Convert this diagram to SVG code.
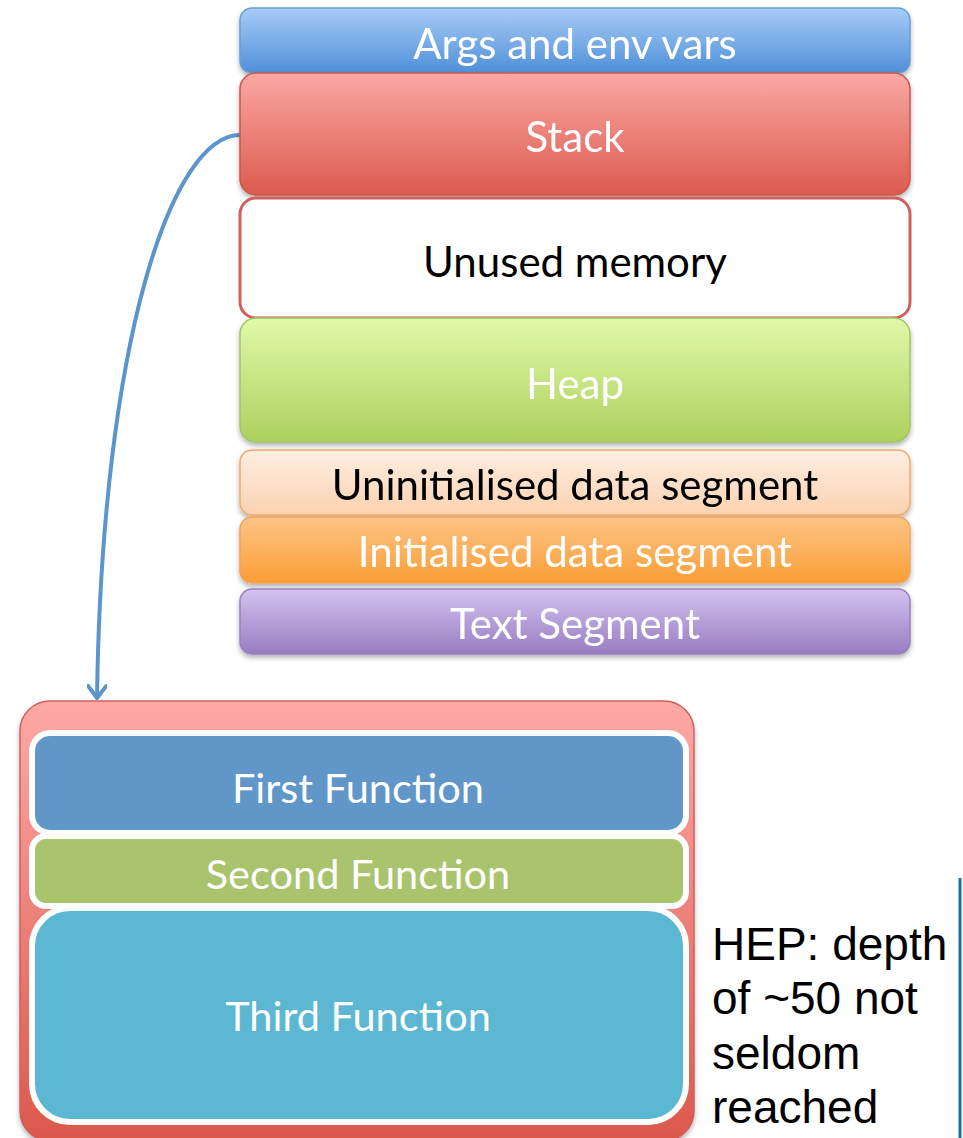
<svg xmlns="http://www.w3.org/2000/svg" width="963" height="1138" viewBox="0 0 963 1138">
<style>
.lbl{font-family:Lato,"Open Sans",sans-serif;font-size:42px;text-anchor:middle}
.sm{font-size:41.5px}
.w{fill:#ffffff}
.k{fill:#000000}
.note{font-family:"Liberation Sans",Arial,sans-serif;font-size:46px;fill:#000}
</style>
<defs>
<filter id="sh" x="-5%" y="-10%" width="110%" height="130%"><feDropShadow dx="0" dy="3" stdDeviation="2.5" flood-color="#000" flood-opacity="0.3"/></filter>
<linearGradient id="gArgs" x1="0" y1="0" x2="0" y2="1"><stop offset="0" stop-color="#a9ccf7"/><stop offset="1" stop-color="#4f8fd8"/></linearGradient>
<linearGradient id="gStack" x1="0" y1="0" x2="0" y2="1"><stop offset="0" stop-color="#fba8a4"/><stop offset="1" stop-color="#dc5a4e"/></linearGradient>
<linearGradient id="gHeap" x1="0" y1="0" x2="0" y2="1"><stop offset="0" stop-color="#e0f9a9"/><stop offset="1" stop-color="#aed05e"/></linearGradient>
<linearGradient id="gUninit" x1="0" y1="0" x2="0" y2="1"><stop offset="0" stop-color="#feeee2"/><stop offset="1" stop-color="#fbd2b0"/></linearGradient>
<linearGradient id="gInit" x1="0" y1="0" x2="0" y2="1"><stop offset="0" stop-color="#fdc486"/><stop offset="1" stop-color="#fb9e36"/></linearGradient>
<linearGradient id="gText" x1="0" y1="0" x2="0" y2="1"><stop offset="0" stop-color="#d4c2f0"/><stop offset="1" stop-color="#987cc0"/></linearGradient>
<linearGradient id="gOuter" x1="0" y1="0" x2="0" y2="1"><stop offset="0" stop-color="#fda9a5"/><stop offset="1" stop-color="#db584c"/></linearGradient>
<marker id="arr" viewBox="0 0 20 20" refX="18" refY="10" markerWidth="20" markerHeight="20" markerUnits="userSpaceOnUse" orient="auto">
<path d="M6 1 L18 10 L6 19" fill="none" stroke="#5b95cb" stroke-width="4" stroke-linecap="round" stroke-linejoin="round"/>
</marker>
</defs>
<rect width="963" height="1138" fill="#ffffff"/>

<g id="connectors">
<path d="M240 135 C172 135 102 340 97 698" fill="none" stroke="#5b95cb" stroke-width="4" marker-end="url(#arr)"/>
</g>

<g id="args" filter="url(#sh)">
<rect x="240" y="8" width="670" height="65" rx="12" fill="url(#gArgs)" stroke="#6a9fd4" stroke-width="1.5"/>
<text class="lbl w" x="575" y="59">Args and env vars</text>
</g>
<g id="stack" filter="url(#sh)">
<rect x="240" y="73" width="670" height="122" rx="16" fill="url(#gStack)" stroke="#c9554c" stroke-width="1.5"/>
<text class="lbl w" x="575" y="152">Stack</text>
</g>
<g id="unused">
<rect x="240" y="198" width="670" height="120" rx="16" fill="#ffffff" stroke="#d0605a" stroke-width="3"/>
<text class="lbl k" x="575" y="277">Unused memory</text>
</g>
<g id="heap" filter="url(#sh)">
<rect x="240" y="318" width="670" height="124" rx="16" fill="url(#gHeap)" stroke="#a2c466" stroke-width="1.5"/>
<text class="lbl w" x="575" y="399">Heap</text>
</g>
<g id="uninit" filter="url(#sh)">
<rect x="240" y="450" width="670" height="65" rx="12" fill="url(#gUninit)" stroke="#f2aa6a" stroke-width="1.5"/>
<text class="lbl k" x="575" y="500">Uninitialised data segment</text>
</g>
<g id="init" filter="url(#sh)">
<rect x="240" y="517" width="670" height="66" rx="12" fill="url(#gInit)" stroke="#f2a460" stroke-width="1.5"/>
<text class="lbl w" x="575" y="567">Initialised data segment</text>
</g>
<g id="textseg" filter="url(#sh)">
<rect x="240" y="589" width="670" height="65" rx="12" fill="url(#gText)" stroke="#9a80c0" stroke-width="1.5"/>
<text class="lbl w" x="575" y="639">Text Segment</text>
</g>

<g id="stackframe" filter="url(#sh)">
<rect x="20" y="701" width="674" height="440" rx="30" fill="url(#gOuter)" stroke="#d06060" stroke-width="1.5"/>
</g>
<g id="first">
<rect x="32" y="733" width="654" height="100" rx="18" fill="#6096c8" stroke="#ffffff" stroke-width="6"/>
<text class="lbl sm w" x="358" y="803">First Function</text>
</g>
<g id="second">
<rect x="32" y="836" width="654" height="70" rx="14" fill="#aac46e" stroke="#ffffff" stroke-width="6"/>
<text class="lbl sm w" x="358" y="889">Second Function</text>
</g>
<g id="third">
<rect x="32" y="908" width="654" height="214" rx="38" fill="#5cb8d2" stroke="#ffffff" stroke-width="6"/>
<text class="lbl sm w" x="358" y="1031">Third Function</text>
</g>

<g id="note">
<text class="note" x="712" y="960">HEP: depth</text>
<text class="note" x="712" y="1014">of ~50 not</text>
<text class="note" x="712" y="1069">seldom</text>
<text class="note" x="712" y="1123">reached</text>
<line x1="960" y1="878" x2="960" y2="1138" stroke="#1f6ea8" stroke-width="3"/>
</g>
</svg>
